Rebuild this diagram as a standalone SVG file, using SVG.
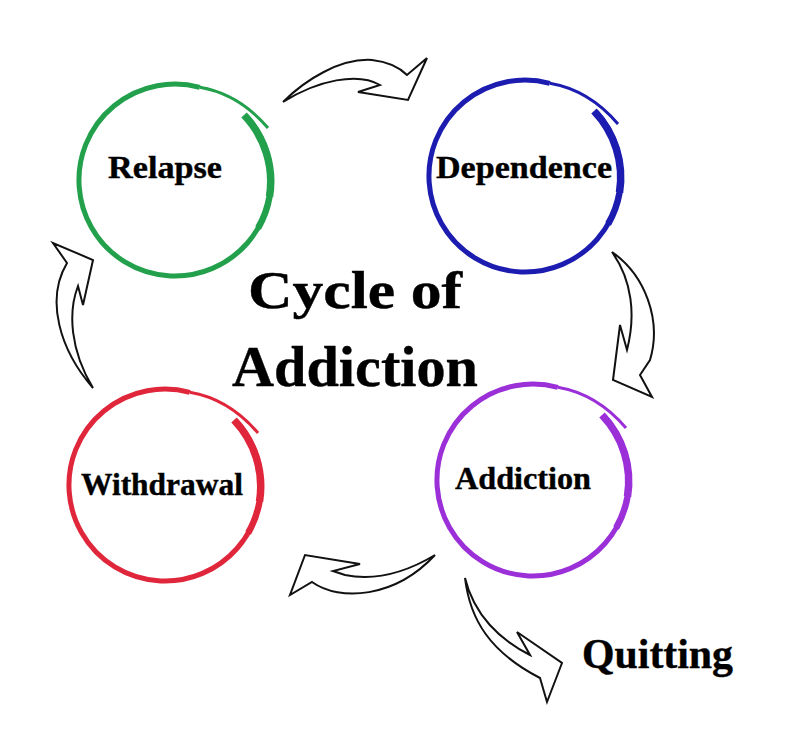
<svg xmlns="http://www.w3.org/2000/svg" xmlns:xlink="http://www.w3.org/1999/xlink" width="800" height="739" viewBox="0 0 800 739">
<style>
.lbl{font-family:"Liberation Serif","Times New Roman",serif;font-weight:bold;fill:#000;stroke:#000;stroke-width:0.4;}
.arrow{fill:#fff;stroke:#111;stroke-width:2;stroke-linejoin:miter;}
</style>
<defs>
<g id="ring" fill="none">
<path d="M71.3,-64.2 A96,96 0 1 1 24.8,-92.7" stroke-width="5"/>
<path d="M69,-65 A96,96 0 0 1 94.5,16.7" stroke-width="7.5"/>
<path d="M94.5,16.7 A96,96 0 0 1 83.1,48" stroke-width="6.5"/>
<path d="M24.8,-92.7 Q64,-86 93,-52" stroke-width="3"/>
</g>
</defs>
<rect width="800" height="739" fill="#fff"/>
<g id="connectors">
<path class="arrow" d="M283,102 C305,80 340,58 372,60 C390,62 400,68 407,75 L427,58 L408,100 L358,92 L380,85 C358,72 318,80 283,102 Z"/>
<path class="arrow" d="M612,252 C645,275 662,320 650,360 L640,375 L652,397 L613,380 L620,325 L627,350 C636,315 632,280 612,252 Z"/>
<path class="arrow" d="M435,555 C410,570 380,582 345,575 L333,571 L360,564 L305,555 L290,595 L312,582 C340,602 395,598 435,555 Z"/>
<path class="arrow" d="M93,388 C60,350 45,300 67,263 L53,243 L93,260 L83,305 L78,286 C68,312 70,350 93,388 Z"/>
<path class="arrow" d="M465,578 C470,620 490,652 540,678 L547,702 L562,663 L517,632 L530,655 C500,640 474,615 465,578 Z"/>
</g>
<g id="relapse">
<use xlink:href="#ring" transform="translate(175,180)" stroke="#22a04b"/>
<text class="lbl" x="108" y="178" font-size="32" textLength="114" lengthAdjust="spacingAndGlyphs">Relapse</text>
</g>
<g id="dependence">
<use xlink:href="#ring" transform="translate(525,176)" stroke="#1c1cb0"/>
<text class="lbl" x="436" y="178" font-size="32" textLength="176" lengthAdjust="spacingAndGlyphs">Dependence</text>
</g>
<g id="addiction">
<use xlink:href="#ring" transform="translate(533,480)" stroke="#9b2fd8"/>
<text class="lbl" x="455" y="489" font-size="32" textLength="136" lengthAdjust="spacingAndGlyphs">Addiction</text>
</g>
<g id="withdrawal">
<use xlink:href="#ring" transform="translate(165,485)" stroke="#e0263b"/>
<text class="lbl" x="81" y="495" font-size="31" textLength="162" lengthAdjust="spacingAndGlyphs">Withdrawal</text>
</g>
<g id="title">
<text class="lbl" x="248" y="308" font-size="52" textLength="214" lengthAdjust="spacingAndGlyphs">Cycle of</text>
<text class="lbl" x="232" y="386" font-size="57" textLength="246" lengthAdjust="spacingAndGlyphs">Addiction</text>
</g>
<g id="quitting">
<text class="lbl" x="582" y="668" font-size="43" textLength="151" lengthAdjust="spacingAndGlyphs">Quitting</text>
</g>
</svg>
